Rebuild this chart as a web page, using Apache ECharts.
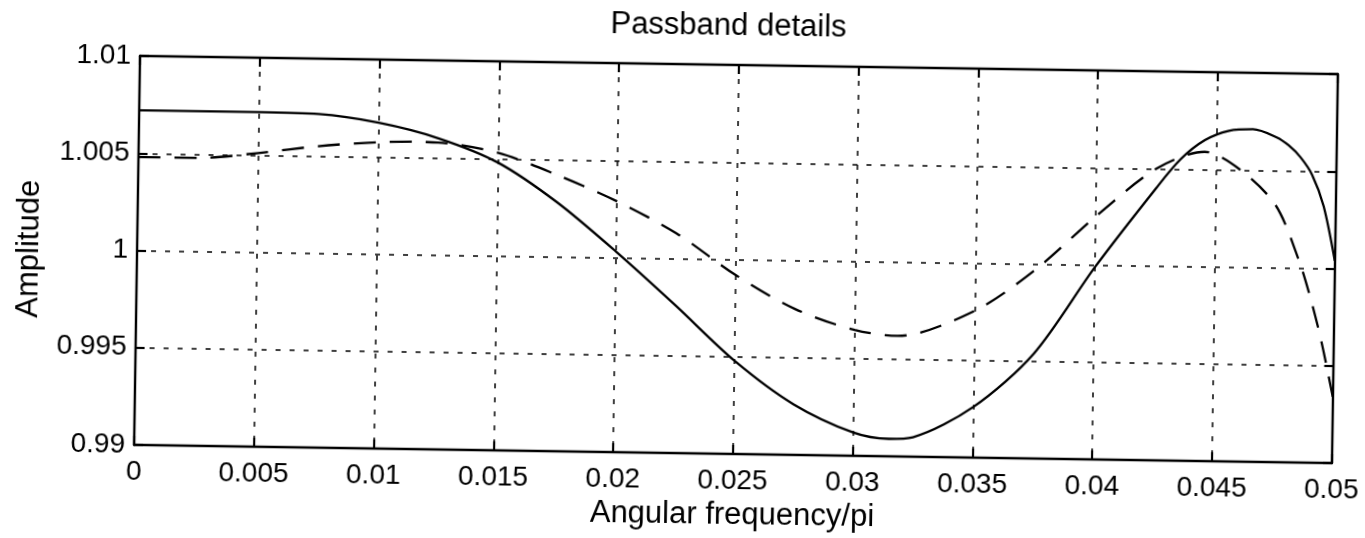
<!DOCTYPE html>
<html>
<head>
<meta charset="utf-8">
<title>Passband details</title>
<script src="https://cdn.jsdelivr.net/npm/echarts@6/dist/echarts.min.js"></script>
<style>
  html, body { margin: 0; padding: 0; background: #ffffff; overflow: hidden; }
  #chart {
    position: absolute; left: 0; top: 0; width: 1365px; height: 538px;
    transform: rotate(0.87deg);
    transform-origin: 736.5px 259.75px;
  }
</style>
</head>
<body>
<div id="chart"></div>
<script>
// Tick labels
const xTickLabels = ['0', '0.005', '0.01', '0.015', '0.02', '0.025', '0.03', '0.035', '0.04', '0.045', '0.05'];
const yTickLabels = ['0.99', '0.995', '1', '1.005', '1.01'];

// Solid response (frequency / amplitude)
const solidFreq = [0, 0.0025, 0.005, 0.0075, 0.01, 0.0125, 0.015, 0.0175, 0.02, 0.0225, 0.025, 0.0275, 0.03, 0.0315, 0.0325, 0.035, 0.0375, 0.04, 0.0425, 0.0435, 0.0445, 0.0455, 0.0465, 0.0475, 0.048, 0.0485, 0.049, 0.0495, 0.05];
const solidAmp  = [1.0072, 1.0072, 1.0072, 1.00715, 1.00675, 1.0060, 1.0048, 1.0028, 1.0003, 0.9976, 0.9948, 0.9926, 0.9912, 0.9909, 0.9910, 0.9926, 0.9954, 0.9999, 1.0040, 1.0055, 1.0065, 1.0070, 1.0071, 1.0067, 1.0063, 1.0057, 1.0048, 1.0032, 1.0004];

// Dashed response (frequency / amplitude)
const dashedFreq = [0, 0.0025, 0.005, 0.0075, 0.01, 0.0115, 0.0125, 0.015, 0.0175, 0.02, 0.0225, 0.025, 0.0275, 0.03, 0.0318, 0.035, 0.0375, 0.04, 0.0425, 0.0445, 0.046, 0.0475, 0.0485, 0.049, 0.0495, 0.05];
const dashedAmp  = [1.0048, 1.0048, 1.0051, 1.0055, 1.00575, 1.0058, 1.00578, 1.0053, 1.0042, 1.0029, 1.0013, 0.9992, 0.9975, 0.99647, 0.9962, 0.99755, 0.9997, 1.0025, 1.0050, 1.0059, 1.0050, 1.0032, 1.0004, 0.9985, 0.9962, 0.9934];

const pair = (xs, ys) => xs.map((x, i) => [x, ys[i]]);

const FONT = "'Liberation Sans', Arial, Helvetica, sans-serif";
const FS_TICK = 28;   // tick labels
const FS_LABEL = 31;  // title and axis names
const X_MIN = 0, X_MAX = 0.05, X_STEP = 0.005;
const Y_MIN = 0.99, Y_MAX = 1.01, Y_STEP = 0.005;

const GRID = { left: 137, top: 65, width: 1199, height: 389 };

const tickIn = { show: true, inside: true, length: 9, lineStyle: { color: '#000', width: 2.2 } };
const boxLine = { show: true, onZero: false, lineStyle: { color: '#000', width: 2.4 } };
const gridDots = { show: true, lineStyle: { color: '#000', width: 1.5, type: [5, 9] } };

const chart = echarts.init(document.getElementById('chart'), null, { renderer: 'canvas' });

chart.setOption({
  backgroundColor: '#ffffff',
  animation: false,
  graphic: [
    {
      type: 'text',
      x: 725,
      y: 26,
      style: {
        text: 'Passband details',
        fill: '#000',
        font: `${FS_LABEL}px ${FONT}`,
        textAlign: 'center',
        textVerticalAlign: 'middle'
      }
    }
  ],
  grid: Object.assign({ containLabel: false }, GRID),
  xAxis: [
    {
      type: 'value', position: 'bottom', min: X_MIN, max: X_MAX, interval: X_STEP,
      axisLine: boxLine, axisTick: tickIn, splitLine: gridDots,
      axisLabel: {
        margin: 13, color: '#000', fontFamily: FONT, fontSize: FS_TICK,
        formatter: (v, i) => xTickLabels[i]
      },
      name: 'Angular frequency/pi', nameLocation: 'middle', nameGap: 42,
      nameTextStyle: { color: '#000', fontFamily: FONT, fontSize: FS_LABEL }
    },
    {
      type: 'value', position: 'top', min: X_MIN, max: X_MAX, interval: X_STEP,
      axisLine: boxLine, axisTick: tickIn, splitLine: { show: false },
      axisLabel: { show: false }
    }
  ],
  yAxis: [
    {
      type: 'value', position: 'left', min: Y_MIN, max: Y_MAX, interval: Y_STEP,
      axisLine: boxLine, axisTick: tickIn, splitLine: gridDots,
      axisLabel: {
        margin: 9, color: '#000', fontFamily: FONT, fontSize: FS_TICK,
        formatter: (v, i) => yTickLabels[i]
      },
      name: 'Amplitude', nameLocation: 'middle', nameGap: 92, nameRotate: 90,
      nameTextStyle: { color: '#000', fontFamily: FONT, fontSize: FS_LABEL }
    },
    {
      type: 'value', position: 'right', min: Y_MIN, max: Y_MAX, interval: Y_STEP,
      axisLine: boxLine, axisTick: tickIn, splitLine: { show: false },
      axisLabel: { show: false }
    }
  ],
  series: [
    {
      type: 'line', data: pair(solidFreq, solidAmp), smooth: 0.3,
      showSymbol: false, symbol: 'none', clip: true,
      lineStyle: { color: '#000', width: 2.3 }
    },
    {
      type: 'line', data: pair(dashedFreq, dashedAmp), smooth: 0.3,
      showSymbol: false, symbol: 'none', clip: true,
      lineStyle: { color: '#000', width: 2.3, type: [22, 14] }
    }
  ]
});
</script>
</body>
</html>
